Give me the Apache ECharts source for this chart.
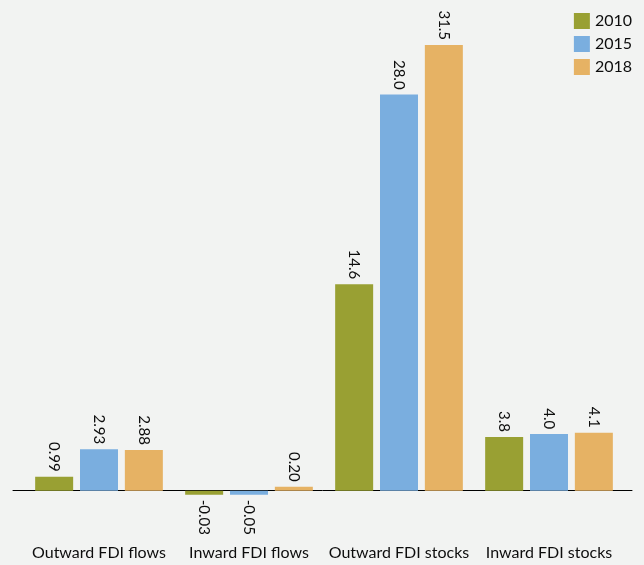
<!DOCTYPE html>
<html><head><meta charset="utf-8">
<script src="https://cdn.jsdelivr.net/npm/echarts@6/dist/echarts.min.js"></script>
<style>html,body{margin:0;padding:0;background:#f2f3f2;}#c{width:644px;height:565px;}</style>
</head><body><div id="c"></div>
<script>
const categories = ['Outward FDI flows', 'Inward FDI flows', 'Outward FDI stocks', 'Inward FDI stocks'];
const years = ['2010', '2015', '2018'];
const values2010 = [0.99, -0.03, 14.6, 3.8];
const values2015 = [2.93, -0.05, 28.0, 4.0];
const values2018 = [2.88, 0.20, 31.5, 4.1];
const labelDecimals = [2, 2, 1, 1];
const colors = ['#99a033', '#7aaedf', '#e6b264'];

const FONT = 'Lato';
const yMin = -2, yMax = 32;

function mk(name, vals, color) {
  return {
    name: name, type: 'bar', xAxisIndex: 0, yAxisIndex: 0,
    barWidth: 38, barGap: '18%', barMinHeight: 4,
    itemStyle: { color: color },
    label: {
      show: true, position: 'top', rotate: -90, align: 'right', verticalAlign: 'middle',
      distance: 5, color: '#0d0d0d', fontSize: 15, fontFamily: FONT,
      formatter: p => p.value.toFixed(labelDecimals[p.dataIndex])
    },
    data: vals.map(v => v < 0 ? { value: v, label: { position: 'bottom', align: 'left' } } : v)
  };
}

const chart = echarts.init(document.getElementById('c'), null, { renderer: 'canvas' });
chart.setOption({
  backgroundColor: '#f2f3f2',
  animation: false,
  textStyle: { fontFamily: FONT },
  legend: {
    orient: 'vertical', right: 7, top: 8, itemWidth: 16, itemHeight: 16, itemGap: 7,
    data: years, textStyle: { fontSize: 16, color: '#0d0d0d', fontFamily: FONT }, icon: 'rect'
  },
  grid: [
    { left: 24, right: 20, top: 38, bottom: 46, outerBoundsMode: 'none', containLabel: false },
    { left: 13, right: 12, top: 38, bottom: 46, outerBoundsMode: 'none', containLabel: false }
  ],
  xAxis: [
    { gridIndex: 0, type: 'category', data: categories, position: 'bottom',
      axisLine: { show: false, onZero: false }, axisTick: { show: false },
      axisLabel: { interval: 0, margin: 26, fontSize: 16, color: '#0d0d0d', fontFamily: FONT } },
    { gridIndex: 1, type: 'category', data: categories,
      axisLine: { show: true, onZero: true, lineStyle: { color: '#000', width: 1 } },
      axisTick: { show: false }, axisLabel: { show: false } }
  ],
  yAxis: [
    { gridIndex: 0, type: 'value', min: yMin, max: yMax, show: false, splitLine: { show: false } },
    { gridIndex: 1, type: 'value', min: yMin, max: yMax, show: false, splitLine: { show: false } }
  ],
  series: [
    mk(years[0], values2010, colors[0]),
    mk(years[1], values2015, colors[1]),
    mk(years[2], values2018, colors[2])
  ]
});
</script></body></html>
